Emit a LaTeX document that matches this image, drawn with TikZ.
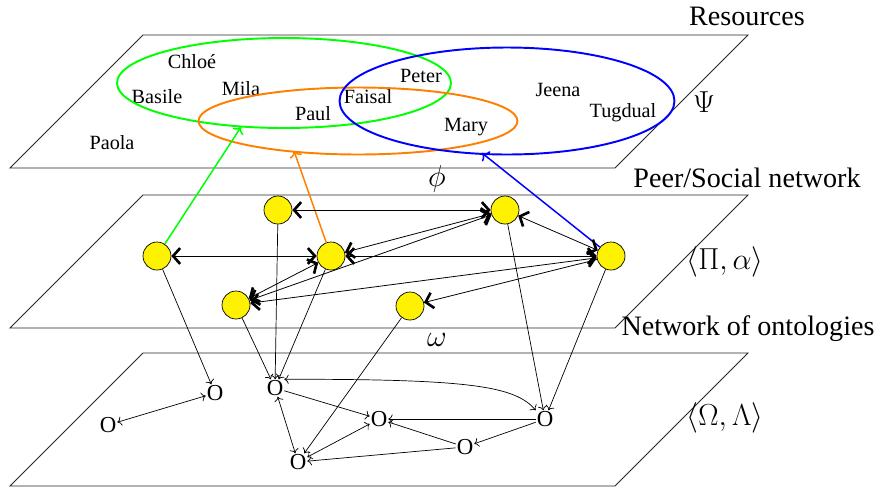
\documentclass[tikz,border=0pt]{standalone}
\usepackage{fontspec}
\setmainfont{Liberation Serif}
\usetikzlibrary{arrows.meta}

\begin{document}
\begin{tikzpicture}[x=0.02cm, y=-0.02cm,
  plane/.style={draw=black!85, line width=0.5pt},
  layer/.style={font=\fontsize{16}{19}\selectfont},
  person/.style={font=\fontsize{11.5}{13}\selectfont},
  group/.style={line width=1.1pt},
  peer/.style={circle, draw, fill=yellow, minimum size=0.56cm, inner sep=0pt},
  onto/.style={inner sep=0.4pt, font=\fontsize{13}{15}\selectfont},
  barb/.tip={Straight Barb[length=4pt,width=9pt,line width=1.5pt]},
  link/.style={double, double distance=1.5pt, line width=0.45pt, barb-barb},
  linkto/.style={double, double distance=1.5pt, line width=0.45pt, -barb},
  map/.style={->, line width=0.85pt}]
  \useasboundingbox (0,0) rectangle (880,488);
  \foreach \y in {35,195,353}
    \draw[plane] (143,\y) -- (748,\y) -- (615,\y+133) -- (10,\y+133) -- cycle;

  \node[layer] (res) at (747,16) {Resources};
  \node[layer] (psn) at (747,178) {Peer/Social network};
  \node[layer] (noo) at (748,329) {Network of ontologies};
  \node[layer] (psi) at (704,102) {$\Psi$};
  \node[layer] (phi) at (437,179) {$\phi$};
  \node[layer] (pia) at (725,262) {$\langle\Pi,\alpha\rangle$};
  \node[layer] (omg) at (437,340) {$\omega$};
  \node[layer] (oml) at (725,418) {$\langle\Omega,\Lambda\rangle$};

  \node[person] (chloe) at (192,62) {Chloé};
  \node[person] (basile) at (157,97) {Basile};
  \node[person] (mila) at (241,89) {Mila};
  \node[person] (paul) at (313,114) {Paul};
  \node[person] (faisal) at (368,97) {Faisal};
  \node[person] (peter) at (421,76) {Peter};
  \node[person] (jeena) at (558,90) {Jeena};
  \node[person] (tugdual) at (623,113) {Tugdual};
  \node[person] (mary) at (466,127) {Mary};
  \node[person] (paola) at (112,143) {Paola};

  \draw[group, green] (284,83) ellipse (3.34cm and 0.9cm);
  \draw[group, orange] (358,121) ellipse (3.19cm and 0.67cm);
  \draw[group, blue] (507,101) ellipse (3.35cm and 1.07cm);
  \coordinate (gtip) at (241,127);
  \coordinate (otip) at (294,151);
  \coordinate (btip) at (482,153);

  \node[peer] (p1) at (278,210) {};
  \node[peer] (p2) at (157,256) {};
  \node[peer] (p3) at (331,256) {};
  \node[peer] (p4) at (236,305) {};
  \node[peer] (p5) at (410,306) {};
  \node[peer] (p6) at (505,210) {};
  \node[peer] (p7) at (611,256) {};

  \node[onto] (o1) at (215,393) {O};
  \node[onto] (o2) at (108,425) {O};
  \node[onto] (o3) at (275,388) {O};
  \node[onto] (o4) at (298,462) {O};
  \node[onto] (o5) at (379,419) {O};
  \node[onto] (o6) at (545,419) {O};
  \node[onto] (o7) at (465,447) {O};

  \draw[map, green] (p2) -- (gtip);
  \draw[map, orange] (p3) -- (otip);
  \draw[map, blue] (p7) -- (btip);

  \path[link]
   (p1) edge (p6)
   (p2) edge (p3)
   (p3) edge (p7)
   (p3) edge (p6)
   (p4) edge (p3)
   (p4) edge (p6)
   (p4) edge (p7)
   (p6) edge (p7);
  \path[linkto]
   (p7) edge (p5);

  \path[->]
   (p2) edge (o1)
   (p1) edge (o3)
   (p3) edge (o3)
   (p4) edge (o3)
   (p5) edge (o4)
   (p6) edge (o6)
   (p7) edge (o6)
   (o3) edge (o5)
   (o6) edge (o5)
   (o6) edge (o7)
   (o7) edge (o5)
   (o7) edge (o4);
  \path[<->]
   (o2) edge (o1)
   (o3) edge (o4)
   (o4) edge (o5);
  \draw[<->] (o3.north east) .. controls (470,379) and (515,386) .. (o6.north west);
\end{tikzpicture}
\end{document}
